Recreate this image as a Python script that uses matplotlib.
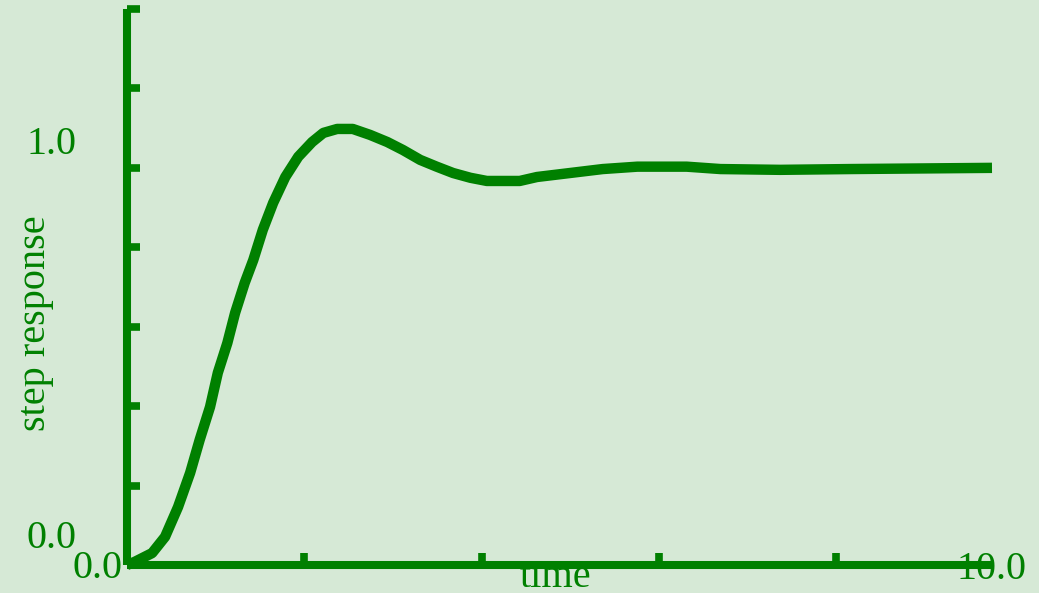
import matplotlib.pyplot as plt

plt.rcParams['font.family'] = ['Liberation Serif', 'DejaVu Serif']

green = '#008000'
bg = '#d6e9d6'

# step response samples (time, response)
t = [0.0, 0.09, 0.29, 0.44, 0.59, 0.73, 0.84, 0.96, 1.05, 1.16, 1.25, 1.36,
     1.46, 1.57, 1.69, 1.83, 1.98, 2.14, 2.27, 2.43, 2.61, 2.81, 3.01, 3.19,
     3.39, 3.58, 3.77, 3.97, 4.16, 4.54, 4.74, 5.12, 5.50, 5.90, 6.47, 6.86,
     7.55, 8.36, 10.0]
y = [0.0, 0.008, 0.030, 0.071, 0.146, 0.232, 0.315, 0.398, 0.484, 0.559,
     0.635, 0.710, 0.768, 0.844, 0.912, 0.977, 1.028, 1.065, 1.088, 1.098,
     1.098, 1.083, 1.065, 1.045, 1.020, 1.003, 0.987, 0.975, 0.967, 0.967,
     0.977, 0.987, 0.997, 1.003, 1.003, 0.997, 0.995, 0.997, 1.0]

xticks = [2.05, 4.1, 6.15, 8.2]
yticks = [0.0, 0.2, 0.4, 0.6, 0.8, 1.0, 1.2, 1.4]

W, H = 1039, 593
fig = plt.figure(figsize=(W / 100, H / 100), dpi=100, facecolor=bg)
ax = fig.add_axes([127 / W, (H - 565) / H, (992 - 127) / W, (565 - 9) / H])
ax.set_facecolor(bg)

ax.plot(t, y, color=green, lw=7.5, solid_capstyle='butt',
        solid_joinstyle='round', clip_on=False)

ax.set_xlim(0, 10)
ax.set_ylim(0, 1.4)
for s in ['top', 'right']:
    ax.spines[s].set_visible(False)
for s in ['left', 'bottom']:
    ax.spines[s].set_color(green)
    ax.spines[s].set_linewidth(5.8)
    ax.spines[s].set_capstyle('butt')

ax.set_xticks(xticks)
ax.set_yticks(yticks)
ax.tick_params(direction='in', color=green, length=9, width=5.5,
               labelbottom=False, labelleft=False)

fs = 29
# end labels on both axes
ax.annotate('0.0', xy=(0, 0), xytext=(-36, 12), textcoords='offset points',
            ha='right', va='baseline', color=green, fontsize=fs)
ax.annotate('1.0', xy=(0, 1.0), xytext=(-36, 10), textcoords='offset points',
            ha='right', va='baseline', color=green, fontsize=fs)
ax.annotate('0.0', xy=(0, 0), xytext=(-3.5, -9), textcoords='offset points',
            ha='right', va='baseline', color=green, fontsize=fs)
ax.annotate('10.0', xy=(10, 0), xytext=(0, -10), textcoords='offset points',
            ha='center', va='baseline', color=green, fontsize=fs)

fig.text(555 / W, (H - 587) / H, 'time', ha='center', va='baseline',
         color=green, fontsize=fs)
fig.text(45 / W, (H - 323) / H, 'step response', ha='center', va='baseline',
         rotation=90, rotation_mode='anchor', color=green, fontsize=fs)

fig.savefig('out.png', dpi=100, facecolor=bg)
